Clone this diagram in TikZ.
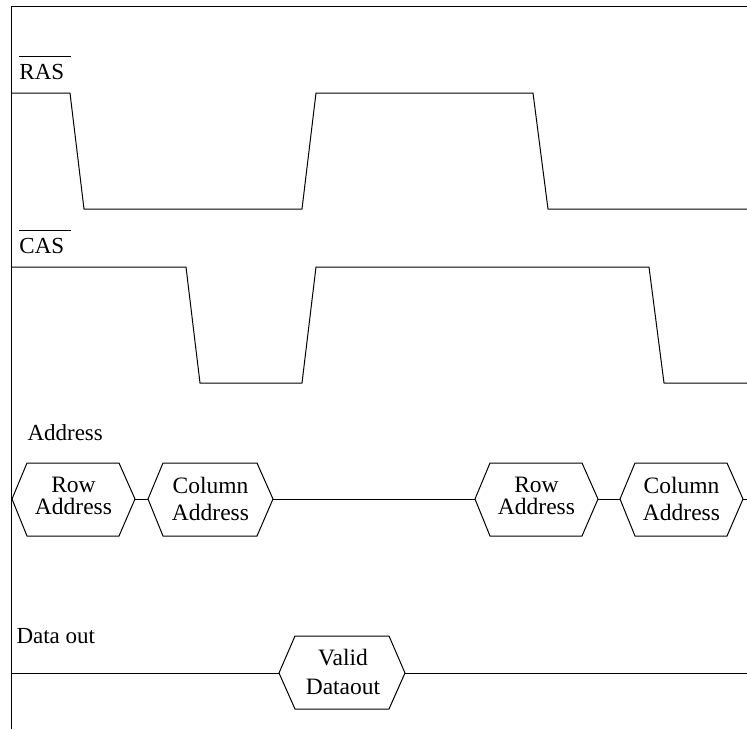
\documentclass[tikz,border=0pt]{standalone}
\usepackage{fontspec}
\setmainfont{Liberation Serif}
\begin{document}
\begin{tikzpicture}[x=1pt,y=-1pt,
  line width=1pt, line join=miter,
  sig/.style={draw=black, line width=1pt},
  lbl/.style={anchor=base west, inner sep=0pt, font=\fontsize{23}{27}\selectfont},
  hextext/.style={anchor=base, inner sep=0pt, font=\fontsize{23.5}{27}\selectfont},
  bar/.style={draw=black, line width=0.9pt}]
\useasboundingbox (0,0) rectangle (747,729);

% frame
\draw[sig] (747,6) -- (11,6) -- (11,729);

% RAS and CAS waveforms
\draw[sig] (11,93) -- (70,93) -- (84,209) -- (302,209) -- (316,93)
  -- (533,93) -- (548,209) -- (747,209);
\draw[sig] (11,267) -- (186,267) -- (200,383) -- (302,383) -- (316,267)
  -- (649,267) -- (664,383) -- (747,383);

% signal names
\node[lbl] (ras) at (19,79) {RAS};
\draw[bar] ([yshift=7pt]ras.north west) -- ([yshift=7pt,xshift=6pt]ras.north east);
\node[lbl] (cas) at (19,253) {CAS};
\draw[bar] ([yshift=7pt]cas.north west) -- ([yshift=7pt,xshift=6pt]cas.north east);
\node[lbl] (addr) at (27,440) {Address};
\node[lbl] (dout) at (16,643) {Data out};

% address bus
\coordinate (r1w) at (12,499);  \coordinate (r1e) at (135,499);
\coordinate (c1w) at (148,499); \coordinate (c1e) at (273,499);
\coordinate (r2w) at (475,499); \coordinate (r2e) at (598,499);
\coordinate (c2w) at (620,499); \coordinate (c2e) at (743,499);
\coordinate (aend) at (747,499);

\draw[sig] (r1w) -- (27,463) -- (119,463) -- (r1e) -- (119,536) -- (27,536) -- cycle;
\draw[sig] (c1w) -- (163,463) -- (257,463) -- (c1e) -- (257,536) -- (163,536) -- cycle;
\draw[sig] (r2w) -- (490,463) -- (582,463) -- (r2e) -- (582,536) -- (490,536) -- cycle;
\draw[sig] (c2w) -- (635,463) -- (727,463) -- (c2e) -- (727,536) -- (635,536) -- cycle;
\draw[sig] (r1e) -- (c1w);
\draw[sig] (c1e) -- (r2w);
\draw[sig] (r2e) -- (c2w);
\draw[sig] (c2e) -- (aend);

\node[hextext] (r1a) at (73.5,492) {Row};
\node[hextext] (r1b) at (73.5,514) {Address};
\node[hextext] (c1a) at (210.5,493) {Column};
\node[hextext] (c1b) at (210.5,520) {Address};
\node[hextext] (r2a) at (536.5,492) {Row};
\node[hextext] (r2b) at (536.5,514) {Address};
\node[hextext] (c2a) at (681.5,493) {Column};
\node[hextext] (c2b) at (681.5,520) {Address};

% data output
\coordinate (dstart) at (11,673);
\coordinate (vw) at (279,673); \coordinate (ve) at (405,673);
\coordinate (dend) at (747,673);
\draw[sig] (vw) -- (295,636) -- (389,636) -- (ve) -- (389,709) -- (295,709) -- cycle;
\draw[sig] (dstart) -- (vw);
\draw[sig] (ve) -- (dend);
\node[hextext] (va) at (343,665) {Valid};
\node[hextext] (vb) at (343,694) {Dataout};
\end{tikzpicture}
\end{document}
